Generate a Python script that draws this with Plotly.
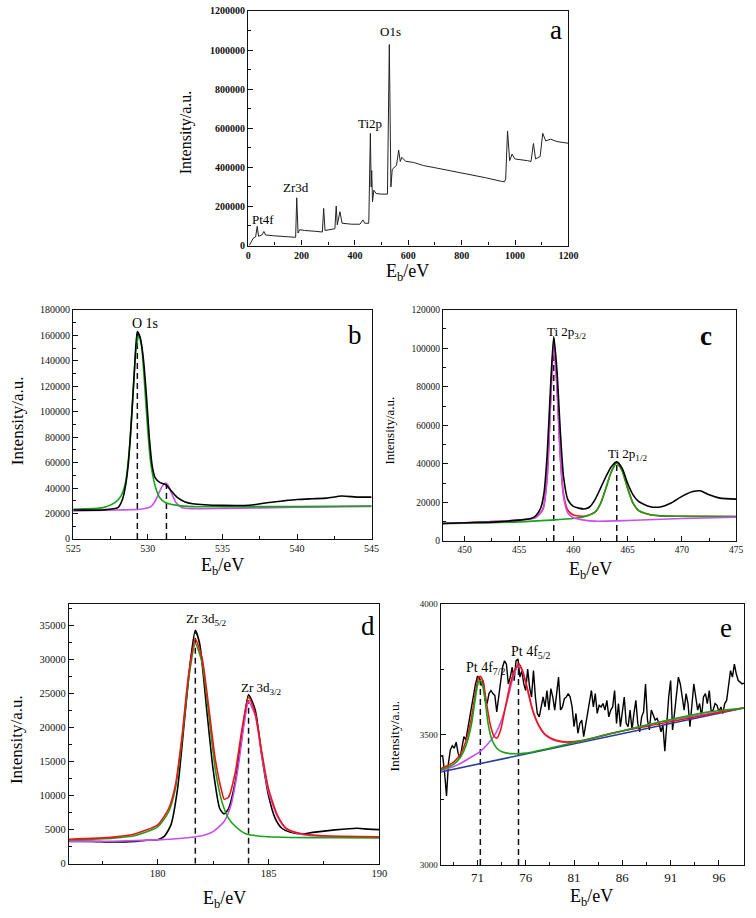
import plotly.graph_objects as go

# ---------------- Panel a: survey spectrum ----------------
SURVEY_E = [4, 12, 20, 28, 34, 39, 52, 59, 65, 95, 130, 178, 182, 187, 193, 211, 250, 278, 283, 288,
            325, 330, 334, 344, 352, 388, 419, 430, 437, 452, 458, 461, 463, 466, 471, 480, 498, 522,
            529, 535, 540, 548, 556, 564, 570, 576, 590, 620, 657, 700, 754, 800, 828, 889, 950, 960,
            965, 972, 980, 989, 999, 1020, 1047, 1060, 1069, 1077, 1094, 1104, 1115, 1133, 1157, 1200]
SURVEY_I = [0, 22000, 39000, 44000, 98000, 47000, 55000, 72000, 54000, 50000, 46000, 42000, 244000,
            64000, 81000, 77000, 73000, 69000, 190000, 77000, 86000, 202000, 106000, 173000, 114000,
            109000, 109000, 131000, 114000, 114000, 574000, 300000, 384000, 224000, 283000, 266000,
            263000, 263000, 1028000, 300000, 390000, 400000, 410000, 488000, 430000, 451000, 431000,
            425000, 409000, 398000, 384000, 372000, 364000, 347000, 328000, 326000, 340000, 586000,
            434000, 468000, 443000, 440000, 434000, 430000, 522000, 443000, 455000, 574000, 535000,
            544000, 532000, 523000]
SURVEY_LABELS = ["Pt4f", "Zr3d", "Ti2p", "O1s"]

# ---------------- Panel b: O 1s ----------------
O_E = [525, 527, 528, 528.3, 528.5, 528.7, 528.9, 529.1, 529.3, 529.5, 529.7, 529.9, 530.1, 530.3,
       530.5, 530.8, 531.2, 531.6, 532, 532.5, 533, 535, 537, 538, 539, 540, 541, 542, 543, 544, 545]
O_RAW = [22800, 22800, 24600, 31000, 41400, 59600, 93000, 132000, 163000, 158000, 142000, 114000,
         80000, 57000, 48000, 44500, 42700, 37500, 32400, 29000, 27700, 26400, 26700, 28500, 29800,
         31000, 31600, 32100, 33700, 32900, 32900]
O_G_E = [525, 527, 527.8, 528.2, 528.5, 528.8, 529.0, 529.2, 529.4, 529.6, 529.8, 530.0, 530.2,
         530.5, 530.8, 531.2, 532, 533, 535, 540, 545]
O_G = [23300, 24600, 28500, 33700, 44000, 75000, 111000, 147600, 160600, 150000, 119000, 85000,
       59500, 41400, 32400, 28500, 26400, 25400, 25400, 25400, 25900]
O_M_E = [525, 528, 529.5, 530.2, 530.5, 530.8, 531.0, 531.2, 531.4, 531.6, 531.9, 532.3, 533, 535,
         540, 545]
O_M = [22000, 22800, 23300, 25400, 29800, 37500, 42000, 44000, 41400, 35700, 28500, 24600, 23800,
       24000, 24900, 25600]
O_PEAKS_E = [529.3, 531.25]
O_PEAKS_I = [163000, 43000]

# ---------------- Panel c: Ti 2p ----------------
TI_E = [448, 450, 453, 455, 456, 456.5, 457, 457.3, 457.6, 457.9, 458.2, 458.5, 458.8, 459.1, 459.5,
        460, 461, 461.5, 462, 462.5, 463, 463.5, 464, 464.5, 465, 465.5, 466, 467, 468, 469, 470,
        471, 471.7, 472.5, 473.5, 475]
TI_RAW = [9060, 9400, 9900, 10800, 11450, 12800, 17100, 24800, 45300, 79500, 106000, 88000, 57200,
          33300, 21400, 17900, 16600, 17600, 21400, 27300, 33300, 38500, 41000, 37600, 29900, 23900,
          20500, 17900, 17600, 19650, 23100, 25600, 26000, 23900, 22200, 21700]
TI_M_E = [448, 455, 456.5, 457.2, 457.6, 457.9, 458.2, 458.5, 458.8, 459.1, 459.5, 460, 461, 462,
          465, 470, 475]
TI_M = [9060, 10800, 12000, 16200, 33300, 71000, 103400, 79500, 43600, 23000, 14500, 12000, 10800,
        10250, 10600, 11600, 12300]
TI_R_E = [448, 455, 456.5, 457.2, 457.6, 457.9, 458.2, 458.5, 458.8, 459.1, 459.5, 460, 461, 462,
          462.5, 463, 463.5, 464, 464.5, 465, 465.5, 466, 467, 468, 470, 475]
TI_R = [9060, 10800, 12100, 16500, 33600, 71400, 103800, 79900, 44300, 24300, 15900, 13500, 12800,
        14900, 19300, 27300, 35900, 40500, 36400, 27300, 19600, 15900, 13700, 13000, 12800, 12600]
TI_G_E = [448, 455, 458, 460, 461, 462, 462.5, 463, 463.5, 464, 464.5, 465, 465.5, 466, 467, 468,
          470, 475]
TI_G = [9060, 9900, 10800, 11600, 12500, 14900, 19300, 27300, 35900, 40500, 36400, 27300, 19600,
        15900, 13700, 13000, 12800, 12600]
TI_PEAKS_E = [458.2, 464.0]
TI_PEAKS_I = [105000, 41000]

# ---------------- Panel d: Zr 3d ----------------
ZR_E = [176, 177, 178, 179, 179.5, 180, 180.3, 180.6, 180.9, 181.2, 181.5, 181.7, 181.9, 182.2, 182.5,
        182.8, 183.0, 183.2, 183.5, 183.8, 184.1, 184.4, 184.7, 185, 185.3, 185.6, 186, 186.5, 187,
        188, 189, 189.5, 190]
ZR_RAW = [3300, 3280, 3190, 3280, 3430, 3520, 4000, 5700, 11000, 20700, 30300, 34300, 32250, 23080,
          13900, 8100, 7300, 8100, 12000, 18700, 24800, 22600, 15800, 10000, 6660, 5200, 4600, 4350,
          4600, 4970, 5200, 5070, 5000]
ZR_R_E = [176, 178, 179, 180, 180.5, 180.8, 181.1, 181.4, 181.7, 182.0, 182.3, 182.6, 182.9, 183.0,
          183.2, 183.5, 183.8, 184.1, 184.4, 184.7, 185, 185.4, 185.8, 186.5, 187.5, 190]
ZR_R = [3580, 3900, 4400, 5700, 8100, 11500, 18700, 27900, 33000, 30300, 23100, 15350, 10500, 9460,
        9800, 13400, 19700, 24500, 22100, 16300, 11000, 7150, 5200, 4400, 4100, 3960]
ZR_G_E = [176, 178, 179, 180, 180.5, 180.8, 181.1, 181.4, 181.7, 182.0, 182.3, 182.6, 182.9, 183.2,
          183.5, 184, 185, 186, 188, 190]
ZR_G = [3480, 3750, 4150, 5400, 7630, 11000, 18250, 27200, 32350, 29600, 22100, 13900, 9080, 6660,
        5500, 4350, 3950, 3850, 3800, 3780]
ZR_M_E = [176, 178, 180, 181, 182, 182.5, 183, 183.3, 183.6, 183.9, 184.1, 184.4, 184.7, 185, 185.4,
          185.8, 186.5, 187.5, 190]
ZR_M = [3230, 3300, 3500, 3700, 4100, 4700, 6200, 8500, 13500, 20500, 23800, 21800, 15800, 10500,
        6900, 5100, 4300, 4000, 3900]
ZR_PEAKS_E = [181.7, 184.1]
ZR_PEAKS_I = [34000, 24000]

# ---------------- Panel e: Pt 4f ----------------
PT_E = [
    67.2, 67.4, 67.6, 67.8, 68.0, 68.2, 68.4, 68.6, 68.8, 69.0,
    69.2, 69.4, 69.6, 69.8, 70.0, 70.2, 70.4, 70.6, 70.8, 71.0,
    71.2, 71.4, 71.6, 71.8, 72.0, 72.2, 72.4, 72.6, 72.8, 73.0,
    73.2, 73.4, 73.6, 73.8, 74.0, 74.2, 74.4, 74.6, 74.8, 75.0,
    75.2, 75.4, 75.6, 75.8, 76.0, 76.2, 76.4, 76.6, 76.8, 77.0,
    77.2, 77.4, 77.6, 77.8, 78.0, 78.2, 78.4, 78.6, 78.8, 79.0,
    79.2, 79.4, 79.6, 79.8, 80.0, 80.2, 80.4, 80.6, 80.8, 81.0,
    81.2, 81.4, 81.6, 81.8, 82.0, 82.2, 82.4, 82.6, 82.8, 83.0,
    83.2, 83.4, 83.6, 83.8, 84.0, 84.2, 84.4, 84.6, 84.8, 85.0,
    85.2, 85.4, 85.6, 85.8, 86.0, 86.2, 86.4, 86.6, 86.8, 87.0,
    87.2, 87.4, 87.6, 87.8, 88.0, 88.2, 88.4, 88.6, 88.8, 89.0,
    89.2, 89.4, 89.6, 89.8, 90.0, 90.2, 90.4, 90.6, 90.8, 91.0,
    91.2, 91.4, 91.6, 91.8, 92.0, 92.2, 92.4, 92.6, 92.8, 93.0,
    93.2, 93.4, 93.6, 93.8, 94.0, 94.2, 94.4, 94.6, 94.8, 95.0,
    95.2, 95.4, 95.6, 95.8, 96.0, 96.2, 96.4, 96.6, 96.8, 97.0,
    97.2, 97.4, 97.6, 97.8, 98.0, 98.2, 98.4, 98.6]
PT_RAW = [
    3417, 3419, 3354, 3265, 3391, 3442, 3457, 3448, 3471, 3429,
    3410, 3448, 3492, 3480, 3524, 3568, 3606, 3657, 3694, 3723,
    3720, 3688, 3707, 3631, 3619, 3657, 3669, 3657, 3650, 3587,
    3644, 3701, 3758, 3783, 3770, 3694, 3720, 3758, 3707, 3783,
    3789, 3720, 3745, 3694, 3669, 3751, 3682, 3644, 3745, 3644,
    3581, 3568, 3600, 3644, 3606, 3669, 3594, 3676, 3644, 3594,
    3657, 3720, 3594, 3606, 3638, 3644, 3657, 3644, 3606, 3530,
    3581, 3505, 3543, 3556, 3492, 3537, 3568, 3619, 3669, 3606,
    3657, 3581, 3612, 3606, 3619, 3594, 3631, 3568, 3594, 3606,
    3669, 3543, 3619, 3530, 3581, 3644, 3543, 3530, 3594, 3518,
    3581, 3631, 3543, 3511, 3568, 3587, 3694, 3556, 3518, 3594,
    3575, 3556, 3562, 3543, 3511, 3537, 3436, 3543, 3644, 3707,
    3518, 3581, 3644, 3720, 3694, 3644, 3594, 3657, 3619, 3530,
    3631, 3694, 3644, 3594, 3619, 3568, 3644, 3657, 3619, 3669,
    3587, 3594, 3619, 3612, 3587, 3606, 3581, 3619, 3631, 3688,
    3745, 3720, 3770, 3732, 3707, 3701, 3694, 3697]
PT_BG_E = [67.2, 98.6]
PT_BG = [3357, 3602]
PT_G_E = [67.2, 68.5, 69.3, 69.9, 70.4, 70.8, 71.1, 71.3, 71.5, 71.8, 72.1, 72.5, 73.0, 73.6, 74.5,
          76, 80, 85, 90, 95, 98.6]
PT_G = [3364, 3385, 3417, 3467, 3543, 3644, 3701, 3707, 3694, 3631, 3543, 3480, 3448, 3433, 3427,
        3429, 3461, 3505, 3549, 3587, 3602]
PT_M_E = [67.2, 69, 70.5, 71.3, 72, 72.8, 73.5, 74.1, 74.6, 75.0, 75.3, 75.7, 76.2, 76.7, 77.3, 78,
          79, 80, 82, 85, 90, 98.6]
PT_M = [3360, 3385, 3417, 3436, 3461, 3499, 3556, 3631, 3707, 3751, 3764, 3739, 3669, 3594, 3537,
        3499, 3477, 3471, 3477, 3505, 3549, 3602]
PT_R_E = [67.2, 68.5, 69.3, 69.9, 70.4, 70.8, 71.1, 71.3, 71.6, 71.9, 72.3, 72.7, 73.0, 73.4, 73.9,
          74.4, 74.9, 75.3, 75.7, 76.2, 76.7, 77.3, 78, 79, 80, 82, 85, 98.6]
PT_R = [3369, 3394, 3429, 3486, 3568, 3663, 3717, 3723, 3701, 3631, 3543, 3495, 3486, 3518, 3606,
        3694, 3751, 3770, 3742, 3672, 3596, 3539, 3501, 3480, 3472, 3478, 3506, 3603]
PT_PEAKS_E = [71.3, 75.25]
PT_PEAKS_I = [3720, 3775]

# ---------------- styling ----------------
SERIF = "Liberation Serif"
BLACK = "#000000"
GREEN = "#16a316"
MAGENTA = "#c94ef0"
RED = "#f01414"
BLUE = "#2a3c9a"

fig = go.Figure()


def line(x, y, ax, color, width=1.6, shape="spline", dash=None):
    fig.add_trace(go.Scatter(
        x=x, y=y, mode="lines", xaxis="x" + ax, yaxis="y" + ax,
        line=dict(color=color, width=width, shape=shape,
                  smoothing=0.6 if shape == "spline" else None, dash=dash),
        showlegend=False, hoverinfo="skip"))


def dashes(xs, tops, base, ax):
    for xv, top in zip(xs, tops):
        fig.add_trace(go.Scatter(
            x=[xv, xv], y=[base, top], mode="lines", xaxis="x" + ax, yaxis="y" + ax,
            line=dict(color="#111111", width=1.5, dash="6px,4px"),
            showlegend=False, hoverinfo="skip"))


# panel a
line(SURVEY_E, SURVEY_I, "", "#222222", width=1.0, shape="linear")
# panel b
dashes(O_PEAKS_E, O_PEAKS_I, 0, "2")
line(O_M_E, O_M, "2", MAGENTA)
line(O_G_E, O_G, "2", GREEN)
line(O_E, O_RAW, "2", BLACK)
# panel c
dashes(TI_PEAKS_E, TI_PEAKS_I, 0, "3")
line(TI_R_E, TI_R, "3", RED)
line(TI_G_E, TI_G, "3", GREEN)
line(TI_M_E, TI_M, "3", MAGENTA)
line(TI_E, TI_RAW, "3", BLACK)
# panel d
dashes(ZR_PEAKS_E, ZR_PEAKS_I, 0, "4")
line(ZR_E, ZR_RAW, "4", BLACK)
line(ZR_M_E, ZR_M, "4", MAGENTA)
line(ZR_G_E, ZR_G, "4", GREEN)
line(ZR_R_E, ZR_R, "4", RED)
# panel e
line(PT_E, PT_RAW, "5", BLACK, width=1.4, shape="linear")
dashes(PT_PEAKS_E, PT_PEAKS_I, 3000, "5")
line(PT_BG_E, PT_BG, "5", BLUE, shape="linear")
line(PT_M_E, PT_M, "5", MAGENTA)
line(PT_R_E, PT_R, "5", RED)
line(PT_G_E, PT_G, "5", GREEN)

W, H = 756, 918


def dom_x(a, b):
    return [a / W, b / W]


def dom_y(top, bottom):
    return [1 - bottom / H, 1 - top / H]


def axis(dom, rng, tick0, dtick, mdtick, fsize, bold=False, fmt=None, anchor=None):
    d = dict(domain=dom, range=rng, tick0=tick0, dtick=dtick, showline=True, linecolor="#111",
             linewidth=1.2, mirror=True, ticks="inside", ticklen=5, tickwidth=1.2, tickcolor="#111",
             showgrid=False, zeroline=False, anchor=anchor,
             tickfont=dict(family=SERIF, size=fsize, color="#111",
                           weight="bold" if bold else "normal"),
             minor=dict(ticks="inside", ticklen=3, tickwidth=1, tickcolor="#111", dtick=mdtick,
                        tick0=tick0, showgrid=False))
    if fmt:
        d["tickformat"] = fmt
    return d


layout = dict(
    width=W, height=H, margin=dict(l=0, r=0, t=0, b=0),
    paper_bgcolor="white", plot_bgcolor="white", showlegend=False,
    xaxis=axis(dom_x(246.7, 574.3), [0, 1200], 0, 200, 100, 10, bold=True, anchor="y"),
    yaxis=axis(dom_y(5, 242.7), [0, 1200000], 0, 200000, 100000, 10, bold=True, fmt="d", anchor="x"),
    xaxis2=axis(dom_x(67.7, 373), [525, 545], 525, 5, 2.5, 10, anchor="y2"),
    yaxis2=axis(dom_y(308, 540), [0, 180000], 0, 20000, 10000, 10, fmt="d", anchor="x2"),
    xaxis3=axis(dom_x(446, 746), [448, 475], 450, 5, 2.5, 9.5, anchor="y3"),
    yaxis3=axis(dom_y(307.7, 542), [0, 120000], 0, 20000, 10000, 9.5, fmt="d", anchor="x3"),
    xaxis4=axis(dom_x(63.3, 381), [176, 190], 180, 5, 2.5, 10.5, anchor="y4"),
    yaxis4=axis(dom_y(606, 869), [0, 38150], 0, 5000, 2500, 10.5, fmt="d", anchor="x4"),
    xaxis5=axis(dom_x(443.7, 754), [67.2, 98.6], 71, 5, 2.5, 13, anchor="y5"),
    yaxis5=axis(dom_y(606, 870.5), [3000, 4000], 3000, 500, 250, 9, fmt="d", anchor="x5"),
)
fig.update_layout(**layout)

ann = []


def txt(text, x, y, ax, size, bold=False):
    ann.append(dict(text=text, x=x, y=y, xref="x" + ax, yref="y" + ax, showarrow=False,
                    xanchor="center", yanchor="middle",
                    font=dict(family=SERIF, size=size, color="#000",
                              weight="bold" if bold else "normal")))


def ptxt(text, px, py, size, angle=0):
    ann.append(dict(text=text, x=px / W, y=1 - py / H, xref="paper", yref="paper", showarrow=False,
                    xanchor="center", yanchor="middle", textangle=angle,
                    font=dict(family=SERIF, size=size, color="#000")))


# panel a labels
txt(SURVEY_LABELS[0], 56, 134800, "", 13)
txt(SURVEY_LABELS[1], 180, 296000, "", 13)
txt(SURVEY_LABELS[2], 455, 624500, "", 13)
txt(SURVEY_LABELS[3], 532, 1094000, "", 13)
txt("a", 1155, 1104000, "", 27)
# panel b
txt("O 1s", 529.8, 169000, "2", 14)
txt("b", 543.9, 160600, "2", 27)
# panel c
txt("Ti 2p<sub>3/2</sub>", 459.4, 108300, "3", 13)
txt("Ti 2p<sub>1/2</sub>", 465.0, 44800, "3", 13)
txt("c", 472.2, 106500, "3", 27, bold=True)
# panel d
txt("Zr 3d<sub>5/2</sub>", 182.2, 35900, "4", 13)
txt("Zr 3d<sub>3/2</sub>", 184.7, 25800, "4", 13)
txt("d", 189.5, 35000, "4", 27)
# panel e
txt("Pt 4f<sub>7/2</sub>", 71.8, 3752, "5", 14)
txt("Pt 4f<sub>5/2</sub>", 76.5, 3813, "5", 14)
txt("e", 96.7, 3909, "5", 27)

# axis titles
EB = "E<sub>b</sub>/eV"
INT = "Intensity/a.u."
ptxt(EB, 410, 270, 18)
ptxt(INT, 183, 128, 16, -90)
ptxt(EB, 220, 568, 18)
ptxt(INT, 11, 420, 17, -90)
ptxt(EB, 597, 572, 18)
ptxt(INT, 391, 430, 13, -90)
ptxt(EB, 222, 905, 18)
ptxt(INT, 9, 743, 17, -90)
ptxt(EB, 598, 903, 18)
ptxt(INT, 396, 740, 13.5, -90)

fig.update_layout(annotations=ann)
fig.write_html(
    "out.html",
    config={"displayModeBar": False},
    post_script="document.body.style.margin='0';document.body.style.overflow='hidden';",
)
